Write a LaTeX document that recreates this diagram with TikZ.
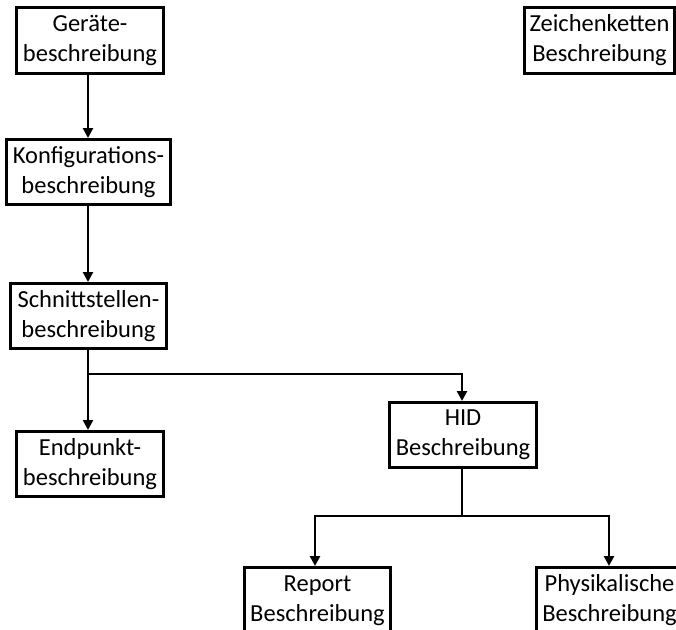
\documentclass[tikz,border=0pt]{standalone}
\usepackage{fontspec}
\setmainfont{Carlito}
\usetikzlibrary{arrows.meta}
\tikzset{
  box/.style={draw=black, line width=3pt, fill=white, inner sep=0pt,
    align=center, font=\fontsize{24.5}{30}\selectfont, anchor=north west},
  link/.style={line width=2.8pt, draw=black},
  arrowlink/.style={link, -{Triangle[length=10pt,width=10pt]}}
}
\begin{document}
\begin{tikzpicture}[x=1pt,y=-1pt]
  \useasboundingbox (0,0) rectangle (676,629);
  \clip (0,0) rectangle (676,629);
  % boxes, given by top-left corner and size
  \node[box, minimum width=147pt, minimum height=66pt] (geraet) at (15,6) {Geräte-\\beschreibung};
  \node[box, minimum width=164pt, minimum height=65pt] (konfig) at (5,138) {Konfigurations-\\beschreibung};
  \node[box, minimum width=156pt, minimum height=65pt] (schnitt) at (9,282) {Schnittstellen-\\beschreibung};
  \node[box, minimum width=147pt, minimum height=65pt] (endpunkt) at (15,430) {Endpunkt-\\beschreibung};
  \node[box, minimum width=147pt, minimum height=65pt] (hid) at (388,401) {HID\\Beschreibung};
  \node[box, minimum width=146pt, minimum height=66pt] (report) at (243,566) {Report\\Beschreibung};
  \node[box, minimum width=146pt, minimum height=66pt] (phys) at (535,566) {Physikalische\\Beschreibung};
  \node[box, minimum width=150pt, minimum height=66pt] (zeichen) at (523,6) {Zeichenketten\\Beschreibung};

  % connectors
  \coordinate (j1) at (88,374);
  \coordinate (j2) at (462,516);
  \draw[arrowlink] (geraet.south -| 88,0) -- (konfig.north -| 88,0);
  \draw[arrowlink] (konfig.south -| 88,0) -- (schnitt.north -| 88,0);
  \draw[link] (schnitt.south -| j1) -- (j1);
  \draw[arrowlink] (j1) -- (endpunkt.north -| j1);
  \draw[arrowlink] (j1) -| (hid.north -| 462,0);
  \draw[link] (hid.south -| j2) -- (j2);
  \draw[arrowlink] (j2) -| (report.north -| 315,0);
  \draw[arrowlink] (j2) -| (phys.north -| 609,0);
\end{tikzpicture}
\end{document}
